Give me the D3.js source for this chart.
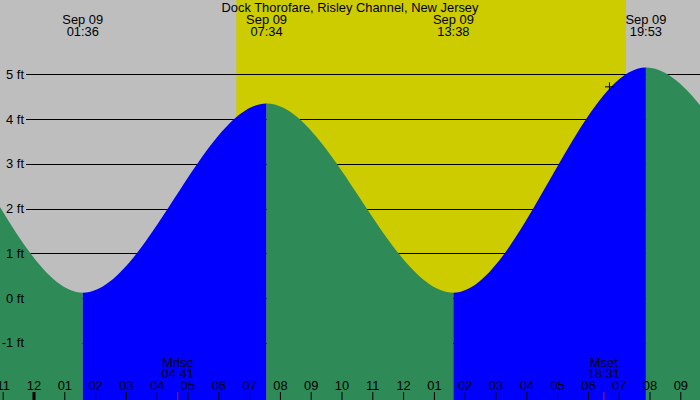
<!DOCTYPE html>
<html>
<head>
<meta charset="utf-8">
<script src="https://cdn.jsdelivr.net/npm/d3@7"></script>
<style>
  html, body { margin: 0; padding: 0; background: #fff; }
  svg { display: block; }
  text { font-family: "Liberation Sans", Arial, sans-serif; fill: #000; }
</style>
</head>
<body>
<svg id="chart" width="700" height="400"></svg>
<script>
// ---- data ----
const title = "Dock Thorofare, Risley Channel, New Jersey";
// tide extremes (first/last ones lie outside the visible window)
const tideTimes   = ["2024-09-08 13:10", "2024-09-08 19:24", "2024-09-09 01:36", "2024-09-09 07:34",
                     "2024-09-09 13:38", "2024-09-09 19:53", "2024-09-10 02:40", "2024-09-10 08:45"];
const tideHeights = [0.2, 4.9, 0.12, 4.35, 0.12, 5.15, 0.10, 4.4];
const extremeLabelDates = ["Sep 09", "Sep 09", "Sep 09", "Sep 09"];
const extremeLabelTimes = ["01:36", "07:34", "13:38", "19:53"];
const sunrise = "2024-09-09 06:35";
const sunset  = "2024-09-09 19:14";
const moonNames = ["Mrise", "Mset"];
const moonTimes = ["04:41", "18:31"];
const markerTime = "2024-09-09 18:42";
const markerHeight = 4.72;
const yTicks = [-1, 0, 1, 2, 3, 4, 5];

// ---- setup ----
const W = 700, H = 400;
const FS = "12.9px";
const parse = d3.timeParse("%Y-%m-%d %H:%M");
const svg = d3.select("#chart");

// time scale calibrated on two hour ticks, then extended to the full width
const ref = d3.scaleTime()
  .domain([parse("2024-09-09 00:00"), parse("2024-09-09 21:00")])
  .range([33.5, 680.3]);
const x = d3.scaleTime().domain([ref.invert(0), ref.invert(W)]).range([0, W]);
const y = d3.scaleLinear().domain([0, 5]).range([298.05, 74.3]);

const tide = tideTimes.map((t, i) => ({ t: parse(t), v: tideHeights[i] }));

// background: night + day
svg.append("rect").attr("x", 0).attr("y", 0).attr("width", W).attr("height", H).attr("fill", "#bebebe");
svg.append("rect")
  .attr("x", x(parse(sunrise))).attr("y", 0)
  .attr("width", x(parse(sunset)) - x(parse(sunrise))).attr("height", H)
  .attr("fill", "#cccc00");

// grid lines
svg.append("g").selectAll("line").data(yTicks).join("line")
  .attr("x1", 26).attr("x2", W)
  .attr("y1", d => Math.round(y(d)) + 0.5).attr("y2", d => Math.round(y(d)) + 0.5)
  .attr("stroke", "#000").attr("stroke-width", 1);

// tide area, coloured by rising/falling segment
const area = d3.area().x(d => x(d.t)).y0(H).y1(d => y(d.v)).curve(d3.curveMonotoneX);
const defs = svg.append("defs");
const areaG = svg.append("g");
for (let i = 0; i < tide.length - 1; i++) {
  const x0 = x(tide[i].t), x1 = x(tide[i + 1].t);
  const id = "seg" + i;
  defs.append("clipPath").attr("id", id).append("rect")
    .attr("x", x0).attr("y", 0).attr("width", x1 - x0).attr("height", H);
  const rising = tide[i + 1].v > tide[i].v;
  areaG.append("path").datum(tide).attr("d", area)
    .attr("clip-path", `url(#${id})`)
    .attr("fill", rising ? "#0000ff" : "#2e8b57");
}

// y labels
svg.append("g").selectAll("text").data(yTicks).join("text")
  .attr("x", 24).attr("y", d => y(d) + 4.5)
  .attr("text-anchor", "end").attr("font-size", FS)
  .text(d => d + " ft");

// marker
const mx = x(parse(markerTime)), my = y(markerHeight);
const mp = d3.path();
mp.moveTo(mx - 4.5, my); mp.lineTo(mx + 4.5, my);
mp.moveTo(mx, my - 4.5); mp.lineTo(mx, my + 4.5);
svg.append("path").attr("d", mp.toString())
  .attr("stroke", "#000").attr("stroke-width", 1).attr("fill", "none");

// title
svg.append("text").attr("x", 350).attr("y", 12).attr("text-anchor", "middle")
  .attr("font-size", FS).text(title);

// extreme labels (visible ones)
const visible = tide.filter(d => x(d.t) >= 0 && x(d.t) <= W);
const exG = svg.append("g");
visible.forEach((d, i) => {
  exG.append("text").attr("x", x(d.t)).attr("y", 24).attr("text-anchor", "middle")
    .attr("font-size", FS).text(extremeLabelDates[i]);
  exG.append("text").attr("x", x(d.t)).attr("y", 36).attr("text-anchor", "middle")
    .attr("font-size", FS).text(extremeLabelTimes[i]);
});

// hour axis
const axis = d3.axisTop(x)
  .ticks(d3.timeHour.every(1))
  .tickFormat(d3.timeFormat("%I"))
  .tickSizeInner(8).tickSizeOuter(0).tickPadding(2);
const ax = svg.append("g").attr("transform", `translate(0,${H})`).call(axis);
ax.select(".domain").remove();
ax.attr("font-family", null).attr("font-size", null);
ax.selectAll("text").attr("font-size", FS).attr("fill", "#000");
ax.selectAll(".tick line").attr("stroke", "#000")
  .attr("stroke-width", d => d.getHours() === 0 ? 3 : 1);

// moon events
const moonG = svg.append("g");
moonTimes.forEach((t, i) => {
  const mxp = x(parse("2024-09-09 " + t));
  moonG.append("line").attr("x1", mxp).attr("x2", mxp).attr("y1", 392).attr("y2", 400)
    .attr("stroke", "#ff0000").attr("stroke-width", 1);
  moonG.append("text").attr("x", mxp).attr("y", 366.5).attr("text-anchor", "middle")
    .attr("font-size", FS).text(moonNames[i]);
  moonG.append("text").attr("x", mxp).attr("y", 378).attr("text-anchor", "middle")
    .attr("font-size", FS).text(t);
});
</script>
</body>
</html>
